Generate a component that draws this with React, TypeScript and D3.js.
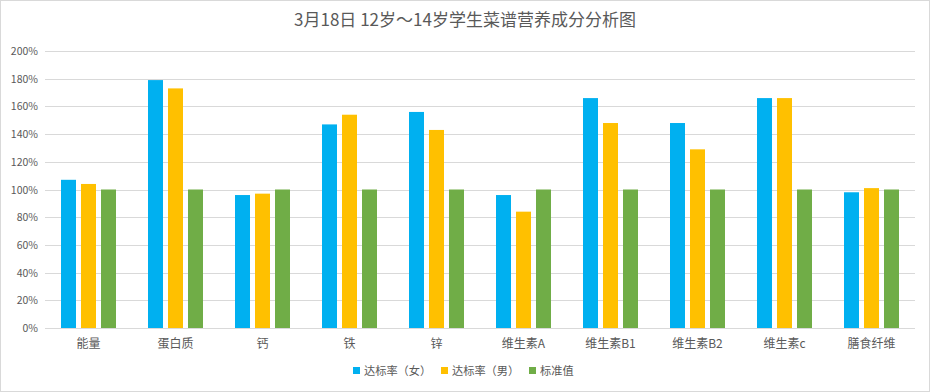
import React from 'react';
import * as d3 from 'd3';

const categories = ['能量', '蛋白质', '钙', '铁', '锌', '维生素A', '维生素B1', '维生素B2', '维生素c', '膳食纤维'];
const femaleRate = [107, 179, 96, 147, 156, 96, 166, 148, 166, 98];
const maleRate = [104, 173, 97, 154, 143, 84, 148, 129, 166, 101];
const standard = [100, 100, 100, 100, 100, 100, 100, 100, 100, 100];
const yTicks = [0, 20, 40, 60, 80, 100, 120, 140, 160, 180, 200];

const seriesNames = ['达标率（女）', '达标率（男）', '标准值'];
const colors = ['#00b0f0', '#ffc000', '#70ad47'];

const W = 930;
const H = 392;
const font = '"Noto Sans CJK SC", "Noto Sans", sans-serif';

const App = () => {
  const margin = { top: 51, right: 15, bottom: 64, left: 45 };
  const x = d3
    .scaleBand<string>()
    .domain(categories)
    .range([margin.left, W - margin.right]);
  const inner = d3
    .scaleBand<number>()
    .domain([0, 1, 2])
    .range([0, 55])
    .paddingInner(0.25);
  const y = d3
    .scaleLinear()
    .domain([0, 200])
    .range([H - margin.bottom, margin.top]);

  const series = [femaleRate, maleRate, standard];
  const groupOffset = (x.bandwidth() - 55) / 2;

  // legend x positions
  const legendX = [353, 441, 529];

  return (
    <svg
      width={W}
      height={H}
      style={{ position: 'absolute', left: 0, top: 0, background: '#fff' }}
      fontFamily={font}
    >
      <rect x={0.5} y={0.5} width={W - 1} height={H - 1} fill="#fff" stroke="#d9d9d9" />
      <text x={W / 2} y={26} textAnchor="middle" fontSize={17} fill="#595959">
        3月18日 12岁～14岁学生菜谱营养成分分析图
      </text>

      {yTicks.map(t => (
        <g key={t}>
          <line
            x1={margin.left}
            x2={W - margin.right}
            y1={Math.round(y(t)) + 0.5}
            y2={Math.round(y(t)) + 0.5}
            stroke="#d9d9d9"
          />
          <text x={38} y={y(t) + 4} textAnchor="end" fontSize={10.5} fill="#595959">
            {t}%
          </text>
        </g>
      ))}

      {series.map((vals, si) =>
        vals.map((v, i) => (
          <rect
            key={si + '-' + i}
            x={(x(categories[i]) as number) + groupOffset + (inner(si) as number)}
            y={y(v)}
            width={inner.bandwidth()}
            height={y(0) - y(v)}
            fill={colors[si]}
          />
        ))
      )}

      {categories.map(c => (
        <text
          key={c}
          x={(x(c) as number) + x.bandwidth() / 2}
          y={348}
          textAnchor="middle"
          fontSize={12}
          fill="#595959"
        >
          {c}
        </text>
      ))}

      {seriesNames.map((n, i) => (
        <g key={n}>
          <rect x={legendX[i]} y={367} width={7} height={7} fill={colors[i]} />
          <text x={legendX[i] + 11} y={375} fontSize={11.2} fill="#595959">
            {n}
          </text>
        </g>
      ))}
    </svg>
  );
};

export default App;
